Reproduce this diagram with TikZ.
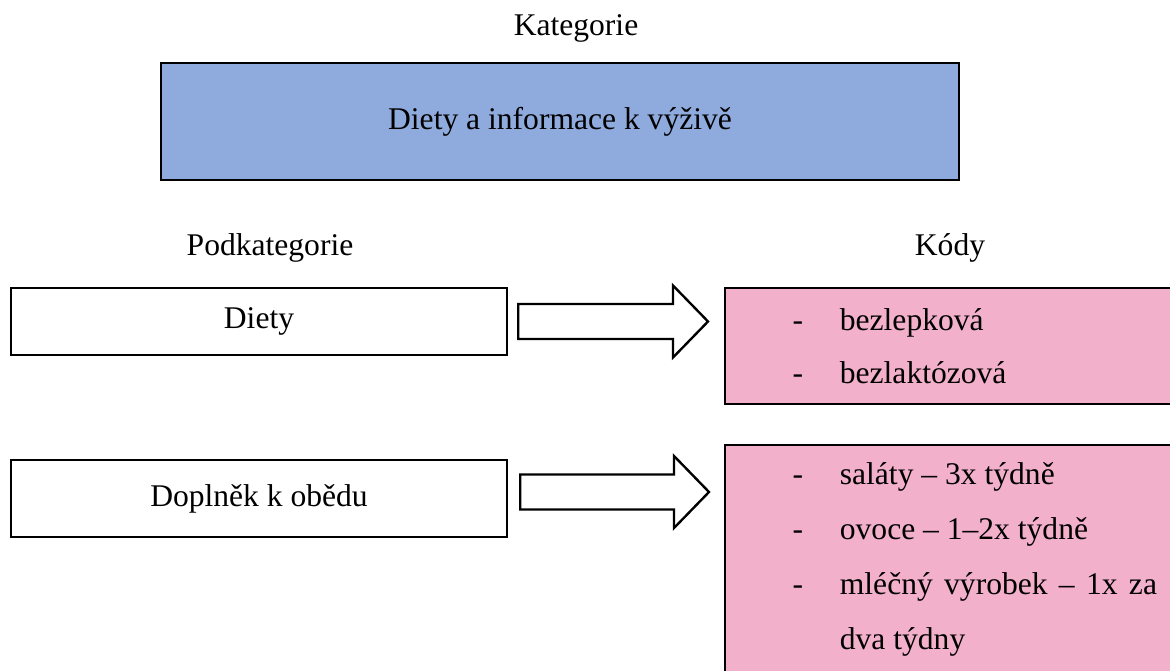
\documentclass[tikz,border=0pt]{standalone}
\usepackage{fontspec}
\setmainfont{Liberation Serif}
\usetikzlibrary{calc}
\newdimen\pxu \pxu=0.38pt
\definecolor{katblue}{HTML}{8FAADC}
\definecolor{kodpink}{HTML}{F3B0CB}
\begin{document}
\begin{tikzpicture}[
        x=0.38pt, y=-0.38pt,
        every node/.style={font=\fontsize{12}{14}\selectfont, inner sep=0pt},
        box/.style={draw, rectangle, line width=0.9pt},
        catbox/.style={box, fill=katblue, minimum width=798\pxu, minimum height=117\pxu},
        subbox/.style={box, fill=white, minimum width=496\pxu},
        codebox/.style={box, fill=kodpink, minimum width=461\pxu, anchor=north west},
        codes/.style={anchor=base west},
        blockarr/.style={draw, line width=0.9pt, fill=white, line join=miter},
    ]
    \useasboundingbox (0,0) rectangle (1170,670);
    \clip (0,0) rectangle (1170,670);

    \node (kattitle) at (576,28) {Kategorie};
    \node[catbox] (kat) at (560,121.5) {Diety a informace k výživě};

    \node (podkat) at (270,248) {Podkategorie};
    \node (kody) at (950,248) {Kódy};

    \node[subbox, minimum height=67\pxu] (diety) at (259,321.5) {Diety};
    \node[subbox, minimum height=77\pxu] (doplnek) at (259,498.5) {Doplněk k obědu};

    \node[codebox, minimum height=116\pxu] (kody1) at (724,287) {};
    \node[codebox, minimum height=260\pxu] (kody2) at (724,444) {};

    \node[codes, font=\fontsize{12}{20.2}\selectfont] (kody1txt) at ($(kody1.north west)+(68,43)$) {%
        \begin{tabular}[t]{@{}l@{\hspace{14pt}}l@{}}
            - & bezlepková\\
            - & bezlaktózová
        \end{tabular}};
    \node[codes, font=\fontsize{12}{20.9}\selectfont] (kody2txt) at ($(kody2.north west)+(68,40)$) {%
        \begin{tabular}[t]{@{}l@{\hspace{14pt}}l@{}}
            - & saláty -- 3x týdně\\
            - & ovoce -- 1--2x týdně\\
            - & \makebox[120.5pt][s]{mléčný výrobek -- 1x za}\\
              & dva týdny
        \end{tabular}};

    % block arrows
    \coordinate (a1s) at ($(diety.east)+(10,0)$);
    \coordinate (a1t) at ($(kody1.west |- a1s)+(-16,0)$);
    \coordinate (a2s) at ($(doplnek.east)+(12,-6.5)$);
    \coordinate (a2t) at ($(kody2.west |- a2s)+(-15,0)$);
    \foreach \src/\dst in {a1s/a1t, a2s/a2t}{
        \draw[blockarr] ($(\src)+(0,-17.5)$) -- ($(\dst)+(-35,-17.5)$) -- ($(\dst)+(-35,-36)$)
            -- (\dst) -- ($(\dst)+(-35,36)$) -- ($(\dst)+(-35,17.5)$) -- ($(\src)+(0,17.5)$) -- cycle;
    }
\end{tikzpicture}
\end{document}
